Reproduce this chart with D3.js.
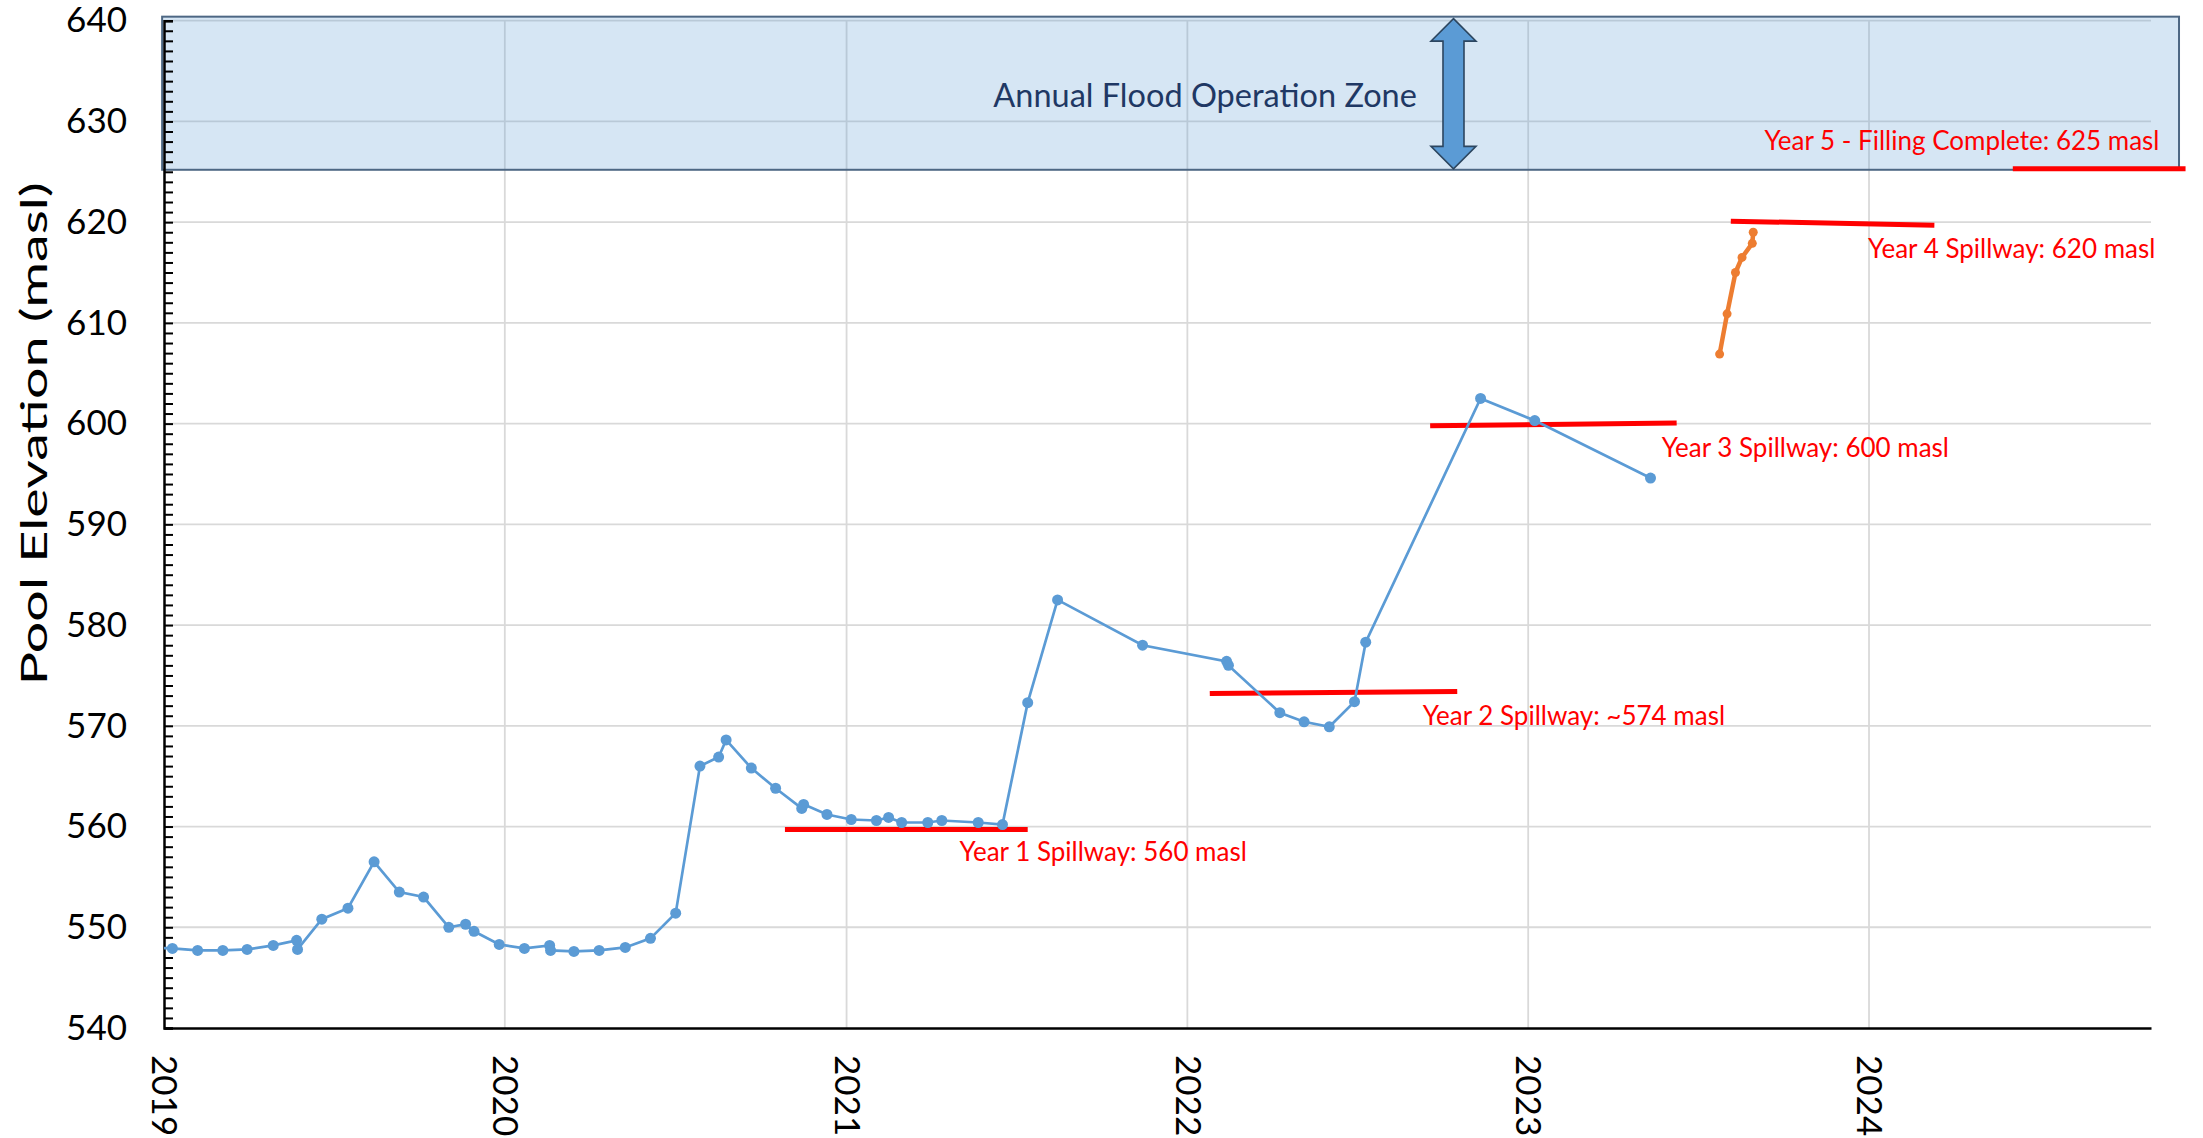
<!doctype html>
<meta charset="utf-8">
<style>
body { margin: 0; background: #fff; }
text { font-family: Lato, "Open Sans", sans-serif; }
</style>
<script src="https://d3js.org/d3.v7.min.js"></script>
<body>
<svg id="chart"></svg>
<script>
// pool elevation readings (masl)
var poolDates = ["2018-12-14","2019-01-10","2019-02-06","2019-03-05","2019-03-31","2019-04-28","2019-05-23","2019-05-24",
  "2019-06-19","2019-07-17","2019-08-14","2019-09-10","2019-10-06","2019-11-02","2019-11-20","2019-11-29",
  "2019-12-26","2020-01-22","2020-02-18","2020-02-19","2020-03-15","2020-04-11","2020-05-09","2020-06-05",
  "2020-07-02","2020-07-28","2020-08-17","2020-08-25","2020-09-21","2020-10-17","2020-11-14","2020-11-16",
  "2020-12-11","2021-01-06","2021-02-02","2021-02-15","2021-03-01","2021-03-29","2021-04-13","2021-05-22",
  "2021-06-17","2021-07-14","2021-08-15","2021-11-14","2022-02-12","2022-02-14","2022-04-10","2022-05-06",
  "2022-06-02","2022-06-29","2022-07-11","2022-11-11","2023-01-08","2023-05-12"];
var poolLevels = [548.0,547.9,547.7,547.7,547.8,548.2,548.7,547.8,
  550.8,551.9,556.5,553.5,553.0,550.0,550.3,549.6,
  548.3,547.9,548.2,547.7,547.6,547.7,548.0,548.9,
  551.4,566.0,566.9,568.6,565.8,563.8,561.8,562.2,
  561.2,560.7,560.6,560.9,560.4,560.4,560.6,560.4,
  560.2,572.3,582.5,578.0,576.4,576.0,571.3,570.4,
  569.9,572.4,578.3,602.5,600.3,594.6];

// latest filling readings
var fillDates = ["2023-07-25","2023-08-02","2023-08-11","2023-08-18","2023-08-29","2023-08-30"];
var fillLevels = [606.9,610.9,615.0,616.5,617.9,619.0];

// spillway targets (red bars)
var spillLabels = ["Year 1 Spillway: 560 masl","Year 2 Spillway: ~574 masl","Year 3 Spillway: 600 masl",
  "Year 4 Spillway: 620 masl","Year 5 - Filling Complete: 625 masl"];
var spillStart = ["2020-10-27","2022-01-25","2022-09-18","2023-08-06","2024-06-03"];
var spillEnd = ["2021-07-14","2022-10-17","2023-06-09","2024-03-11","2024-12-05"];
var spillStartLevel = [559.7,573.2,599.8,620.1,625.3];
var spillEndLevel = [559.7,573.4,600.05,619.7,625.3];
var spillLabelDates = ["2021-05-02","2022-09-10","2023-05-24","2023-12-31","2023-09-11"];
var spillLabelLevels = [556.55,570.1,596.7,616.4,627.2];

// flood operation zone
var floodZone = {from: "2018-12-30", to: "2024-11-28", low: 625.2, high: 640.4};
var floodLabel = "Annual Flood Operation Zone";
var floodLabelDate = "2022-01-20", floodLabelLevel = 631.4;
var floodArrowDate = "2022-10-13";

var yearTicks = ["2019","2020","2021","2022","2023","2024"];
var xDomain = ["2019-01-01","2024-10-29"];
var yDomain = [540, 640];

var parse = d3.timeParse("%Y-%m-%d");
var width = 2203, height = 1138;
var margin = {top: 20.7, right: 52, bottom: 110, left: 164};

var svg = d3.select("#chart")
    .attr("width", width)
    .attr("height", height);

var x = d3.scaleTime()
    .domain(xDomain.map(parse))
    .range([margin.left, width - margin.right]);
var y = d3.scaleLinear()
    .domain(yDomain)
    .range([height - margin.bottom, margin.top]);

svg.append("defs").append("clipPath")
    .attr("id", "plotclip")
  .append("rect")
    .attr("x", x.range()[0])
    .attr("y", 0)
    .attr("width", x.range()[1] - x.range()[0])
    .attr("height", y.range()[0]);

// gridlines
var grid = svg.append("g").attr("class", "grid");
grid.selectAll(".hgrid")
    .data(d3.range(550, 641, 10))
    .enter().append("line")
      .attr("x1", x.range()[0]).attr("x2", x.range()[1])
      .attr("y1", function(d){ return y(d); })
      .attr("y2", function(d){ return y(d); })
      .attr("stroke", "#d9d9d9")
      .attr("stroke-width", 1.8);
grid.selectAll(".vgrid")
    .data(yearTicks.slice(1))
    .enter().append("line")
      .attr("x1", function(d){ return x(parse(d + "-01-01")); })
      .attr("x2", function(d){ return x(parse(d + "-01-01")); })
      .attr("y1", y(640)).attr("y2", y(540))
      .attr("stroke", "#d9d9d9")
      .attr("stroke-width", 1.8);

// flood zone band
svg.append("rect")
    .attr("x", x(parse(floodZone.from)))
    .attr("y", y(floodZone.high))
    .attr("width", x(parse(floodZone.to)) - x(parse(floodZone.from)))
    .attr("height", y(floodZone.low) - y(floodZone.high))
    .attr("fill", "#5b9bd5")
    .attr("fill-opacity", 0.25)
    .attr("stroke", "#4d6783")
    .attr("stroke-width", 2);

svg.append("text")
    .attr("x", x(parse(floodLabelDate)))
    .attr("y", y(floodLabelLevel))
    .attr("text-anchor", "middle")
    .attr("fill", "#1f3864")
    .style("font-size", "32.5px")
    .text(floodLabel);

// double headed arrow across the zone
var ax = x(parse(floodArrowDate)), arrowTop = y(640.2), arrowBot = y(625.3);
var shaft = 10.5, head = 22.5, hl = 22.4;
svg.append("path")
    .attr("d", "M" + ax + "," + arrowTop +
      "L" + (ax + head) + "," + (arrowTop + hl) + "L" + (ax + shaft) + "," + (arrowTop + hl) +
      "L" + (ax + shaft) + "," + (arrowBot - hl) + "L" + (ax + head) + "," + (arrowBot - hl) +
      "L" + ax + "," + arrowBot +
      "L" + (ax - head) + "," + (arrowBot - hl) + "L" + (ax - shaft) + "," + (arrowBot - hl) +
      "L" + (ax - shaft) + "," + (arrowTop + hl) + "L" + (ax - head) + "," + (arrowTop + hl) + "Z")
    .attr("fill", "#5b9bd5")
    .attr("stroke", "#2c4660")
    .attr("stroke-width", 1.6);

// axes
var yMinor = svg.append("g")
    .attr("transform", "translate(" + x.range()[0] + ",0)")
    .call(d3.axisLeft(y).tickValues(d3.range(540, 641, 1)).tickSize(-9).tickFormat(""));
var yLabels = svg.append("g")
    .attr("transform", "translate(" + x.range()[0] + ",0)")
    .call(d3.axisLeft(y).tickValues(d3.range(540, 641, 10)).tickSize(0).tickPadding(37));
yLabels.select(".domain").remove();
yLabels.selectAll("text")
    .style("font-size", "35px")
    .style("font-family", "Lato, sans-serif")
    .attr("fill", "#000");
yMinor.selectAll("line").attr("stroke", "#000").attr("stroke-width", 2);
yMinor.select(".domain").attr("stroke", "#000").attr("stroke-width", 2.5);

var xAxis = svg.append("g")
    .attr("transform", "translate(0," + y.range()[0] + ")")
    .call(d3.axisBottom(x).tickValues(yearTicks.map(function(d){ return parse(d + "-01-01"); }))
      .tickSize(0).tickFormat(d3.timeFormat("%Y")));
xAxis.select(".domain").attr("stroke", "#000").attr("stroke-width", 2.5);
xAxis.selectAll("text")
    .attr("transform", "rotate(90)")
    .attr("x", 27)
    .attr("y", 0)
    .attr("dy", "0.35em")
    .attr("text-anchor", "start")
    .attr("fill", "#000")
    .style("font-size", "35px")
    .style("font-family", "Lato, sans-serif");

svg.append("text")
    .attr("transform", "translate(34," + y(599) + ") rotate(-90)")
    .attr("text-anchor", "middle")
    .attr("dy", "0.35em")
    .attr("textLength", 503)
    .attr("lengthAdjust", "spacingAndGlyphs")
    .style("font-size", "36px")
    .text("Pool Elevation (masl)");

// spillway target bars
svg.append("g").selectAll("line")
    .data(spillLabels)
    .enter().append("line")
      .attr("x1", function(d, i){ return x(parse(spillStart[i])); })
      .attr("x2", function(d, i){ return x(parse(spillEnd[i])); })
      .attr("y1", function(d, i){ return y(spillStartLevel[i]); })
      .attr("y2", function(d, i){ return y(spillEndLevel[i]); })
      .attr("stroke", "#ff0000")
      .attr("stroke-width", 5);
svg.append("g").selectAll("text")
    .data(spillLabels)
    .enter().append("text")
      .attr("x", function(d, i){ return x(parse(spillLabelDates[i])); })
      .attr("y", function(d, i){ return y(spillLabelLevels[i]); })
      .attr("fill", "#ff0000")
      .style("font-size", "26px")
      .text(function(d){ return d; });

// series
var plot = svg.append("g").attr("clip-path", "url(#plotclip)");
var pool = poolDates.map(function(d, i){ return {date: parse(d), level: poolLevels[i]}; });
var fill = fillDates.map(function(d, i){ return {date: parse(d), level: fillLevels[i]}; });
var line = d3.line()
    .x(function(d){ return x(d.date); })
    .y(function(d){ return y(d.level); });

plot.append("path")
    .datum(pool)
    .attr("d", line)
    .attr("fill", "none")
    .attr("stroke", "#5b9bd5")
    .attr("stroke-width", 2.7);
plot.selectAll(".pooldot")
    .data(pool)
    .enter().append("circle")
      .attr("cx", function(d){ return x(d.date); })
      .attr("cy", function(d){ return y(d.level); })
      .attr("r", 5.5)
      .attr("fill", "#5b9bd5");

plot.append("path")
    .datum(fill)
    .attr("d", line)
    .attr("fill", "none")
    .attr("stroke", "#ed7d31")
    .attr("stroke-width", 4.5);
plot.selectAll(".filldot")
    .data(fill)
    .enter().append("circle")
      .attr("cx", function(d){ return x(d.date); })
      .attr("cy", function(d){ return y(d.level); })
      .attr("r", 4.5)
      .attr("fill", "#ed7d31");
</script>
</body>
